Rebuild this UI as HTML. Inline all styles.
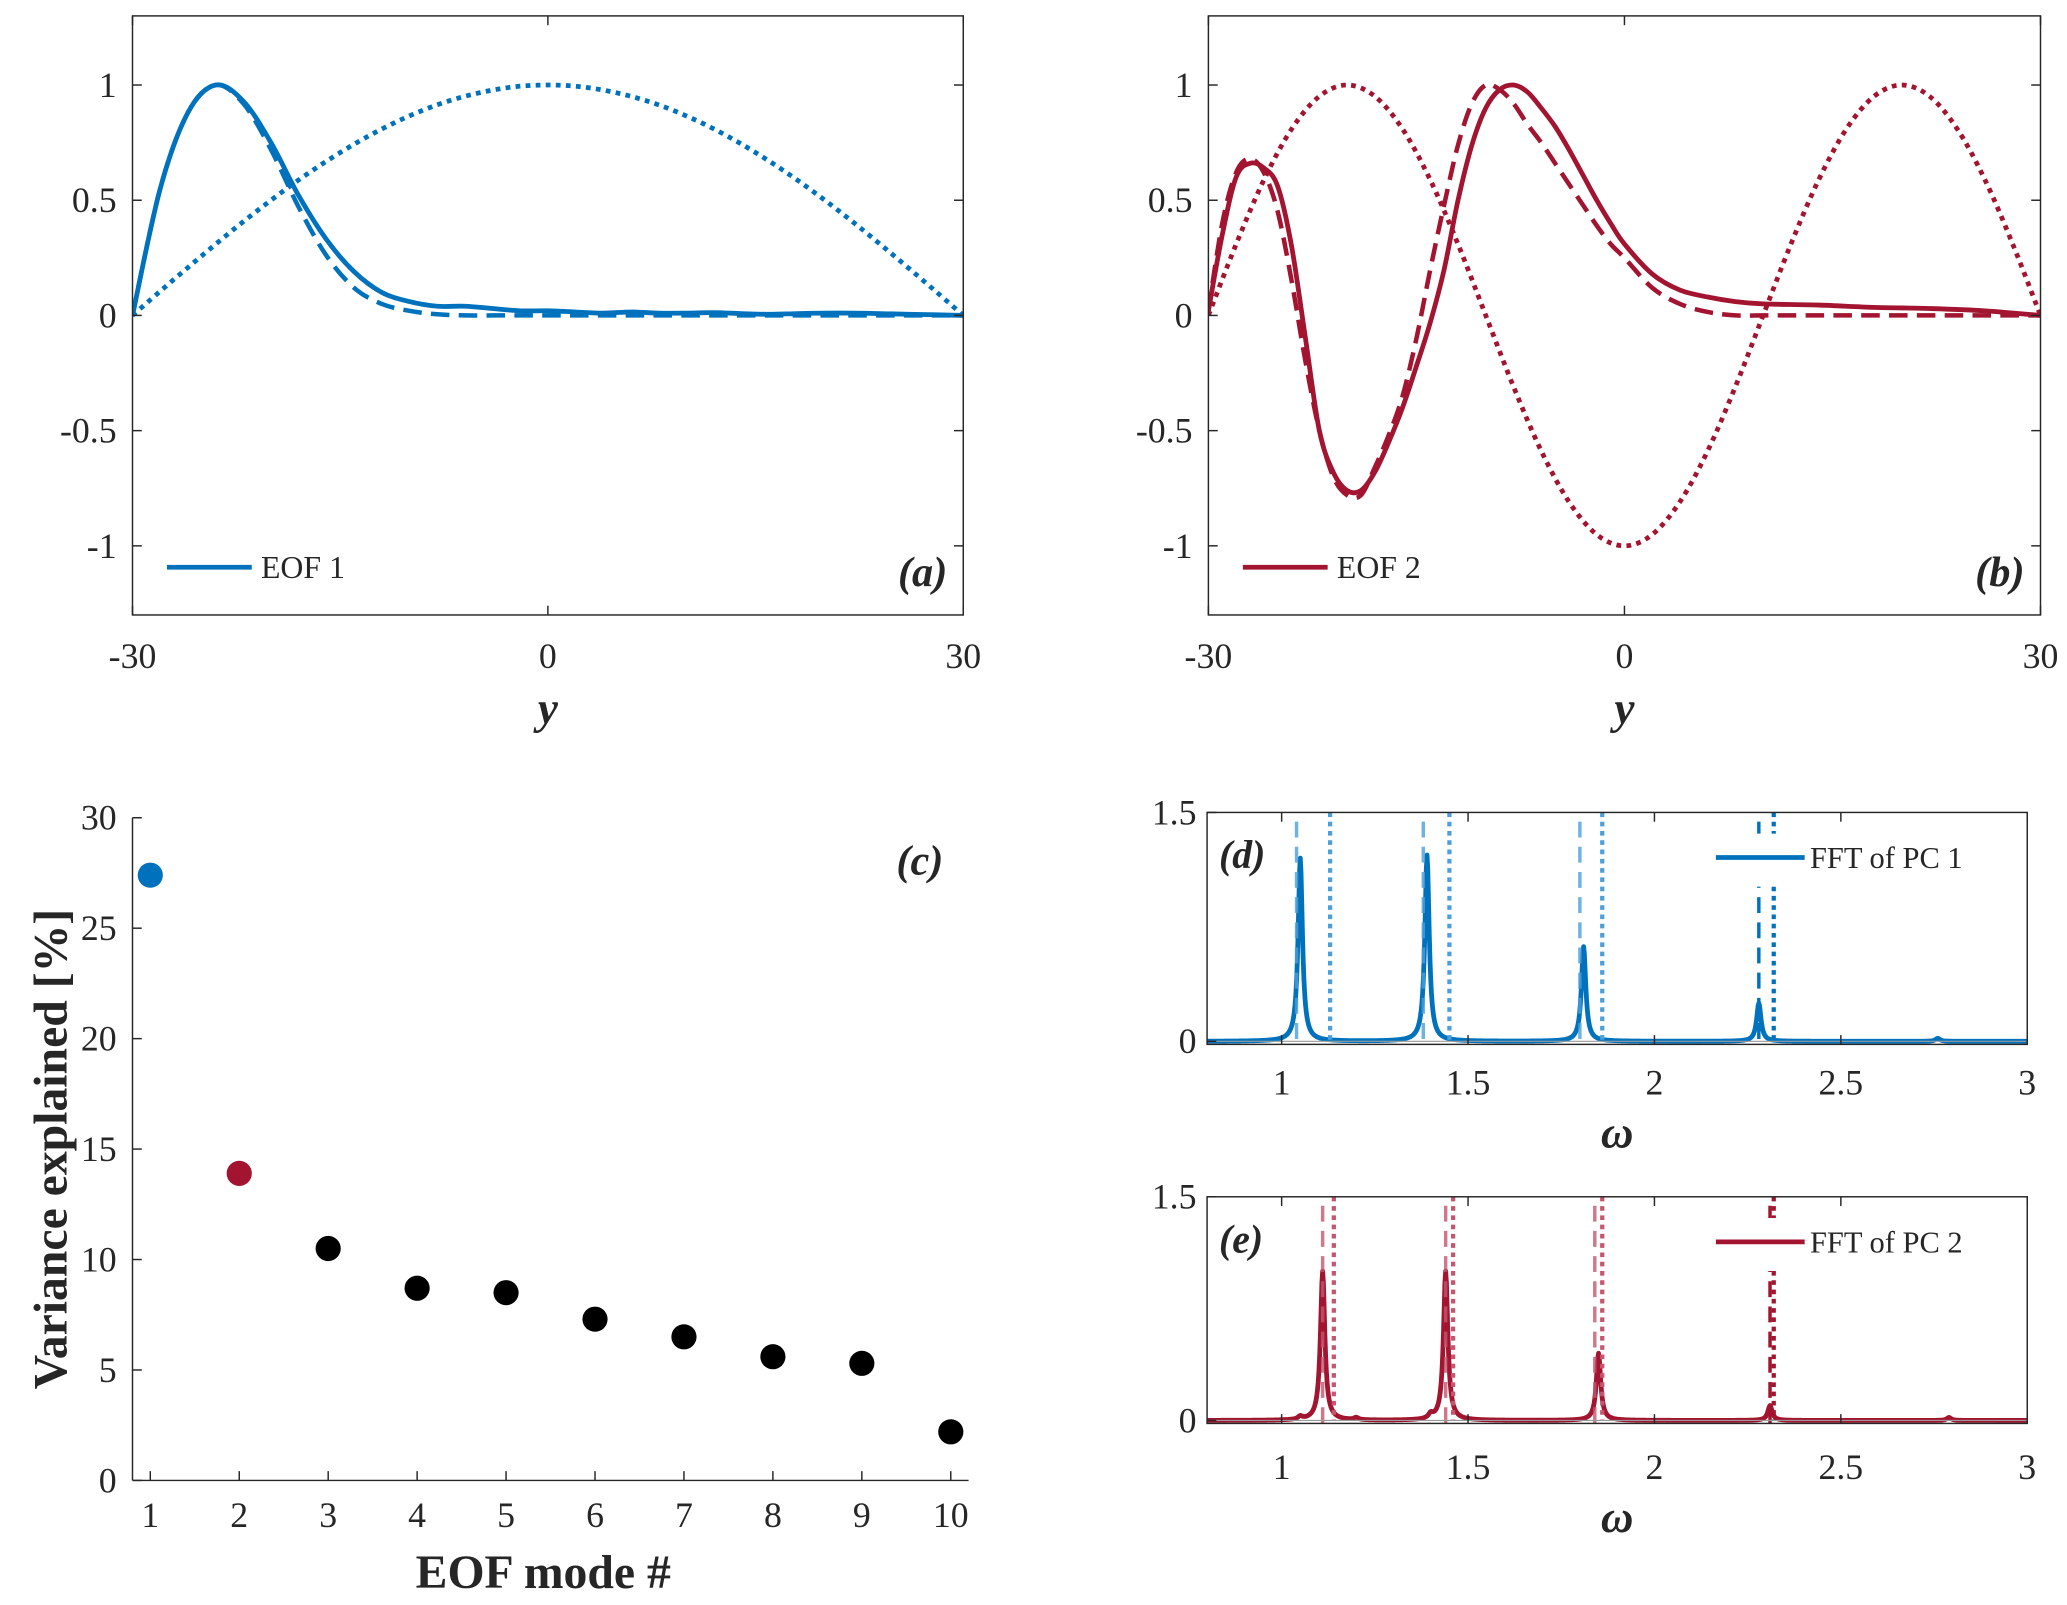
<!DOCTYPE html>
<html><head><meta charset="utf-8"><style>
html,body{margin:0;padding:0;background:#fff;}
svg{display:block;}
text{font-family:"Liberation Serif",serif;fill:#262626;}
</style></head><body>
<svg id="fig" width="2067" height="1605" viewBox="0 0 1560 1211" preserveAspectRatio="none" xmlns="http://www.w3.org/2000/svg"></svg>
<script>
// ---------- data ----------
// Panel (a)
const aY = [-30,-28,-26,-24,-22,-20,-18,-16,-14,-12,-10,-8,-6,-4,-2,0,2,4,6,8,10,12,14,16,18,20,22,24,26,28,30];
const aSolid = [0,0.55,0.88,1.0,0.93,0.75,0.52,0.33,0.19,0.1,0.06,0.04,0.04,0.03,0.02,0.02,0.015,0.01,0.015,0.01,0.01,0.012,0.008,0.005,0.008,0.01,0.01,0.008,0.005,0.003,0];
const aDashed = [0,0.55,0.88,1.0,0.92,0.72,0.47,0.26,0.12,0.05,0.02,0.005,0,0,0,0,0,0,0,0,0,0,0,0,0,0,0,0,0,0,0];
const aDotted = [0,0.105,0.208,0.309,0.407,0.5,0.588,0.669,0.743,0.809,0.866,0.914,0.951,0.978,0.995,1,0.995,0.978,0.951,0.914,0.866,0.809,0.743,0.669,0.588,0.5,0.407,0.309,0.208,0.105,0];
// Panel (b)
const bY = [-30,-29,-28,-27,-26,-25,-24,-23,-22,-21,-20,-19,-18,-17,-16,-15,-14,-13,-12,-11,-10,-9,-8,-7,-6,-5,-4,-3,-2,-1,0,2,4,6,8,10,14,18,22,26,30];
const bSolid = [0.02,0.35,0.6,0.66,0.64,0.56,0.3,-0.1,-0.5,-0.68,-0.76,-0.76,-0.68,-0.55,-0.4,-0.22,-0.03,0.2,0.5,0.74,0.9,0.98,1.0,0.97,0.9,0.82,0.72,0.61,0.5,0.4,0.31,0.18,0.11,0.08,0.06,0.05,0.045,0.035,0.03,0.02,0];
const bDashed = [0.02,0.4,0.62,0.68,0.62,0.45,0.15,-0.2,-0.5,-0.7,-0.78,-0.78,-0.66,-0.52,-0.35,-0.1,0.2,0.48,0.74,0.92,1.0,0.98,0.92,0.83,0.75,0.66,0.57,0.48,0.39,0.31,0.25,0.12,0.05,0.015,0,0,0,0,0,0,0];
const bDotY = [-30,-28,-26,-24,-22,-20,-18,-16,-14,-12,-10,-8,-6,-4,-2,0,2,4,6,8,10,12,14,16,18,20,22,24,26,28,30];
const bDotted = [0,0.309,0.588,0.809,0.951,1,0.951,0.809,0.588,0.309,0,-0.309,-0.588,-0.809,-0.951,-1,-0.951,-0.809,-0.588,-0.309,0,0.309,0.588,0.809,0.951,1,0.951,0.809,0.588,0.309,0];
// Panel (c)
const cModes = [1,2,3,4,5,6,7,8,9,10];
const cVariance = [27.4,13.9,10.5,8.7,8.5,7.3,6.5,5.6,5.3,2.2];
const cColors = ['#0072BD','#A2142F','#000','#000','#000','#000','#000','#000','#000','#000'];
// Panel (d)
const dPeakW = [1.05,1.39,1.81,2.28,2.76];
const dPeakA = [1.2,1.22,0.62,0.25,0.02];
const dDashW = [1.04,1.38,1.80,2.28];
const dDotW = [1.13,1.45,1.86,2.32];
// Panel (e)
const ePeakW = [1.11,1.44,1.85,2.31,2.79,1.05,1.40,1.20];
const ePeakA = [1.0,1.0,0.45,0.1,0.02,0.02,0.03,0.015];
const eDashW = [1.11,1.44,1.84,2.31];
const eDotW = [1.14,1.46,1.86,2.32];
const yTicksAB = [-1,-0.5,0,0.5,1];
const yTickLabelsAB = ['-1','-0.5','0','0.5','1'];
const xTicksAB = [-30,0,30];
const yTicksC = [0,5,10,15,20,25,30];
const xTicksDE = [1,1.5,2,2.5,3];
const xTickLabelsDE = ['1','1.5','2','2.5','3'];

// ---------- helpers ----------
const svg = document.getElementById('fig');
const NS = 'http://www.w3.org/2000/svg';
function mk(tag, attrs, parent){
  const e = document.createElementNS(NS, tag);
  for (const k in attrs) e.setAttribute(k, attrs[k]);
  (parent||svg).appendChild(e);
  return e;
}
function txt(s, x, y, size, opts, parent){
  const e = mk('text', Object.assign({x:x, y:y, 'font-size':size}, opts||{}), parent);
  e.textContent = s;
  return e;
}
function lin(d0,d1,r0,r1){ return v => r0 + (v-d0)/(d1-d0)*(r1-r0); }
function smoothPath(pts){
  let d = 'M'+pts[0][0].toFixed(2)+','+pts[0][1].toFixed(2);
  for (let i=0;i<pts.length-1;i++){
    const p0=pts[Math.max(0,i-1)], p1=pts[i], p2=pts[i+1], p3=pts[Math.min(pts.length-1,i+2)];
    const c1=[p1[0]+(p2[0]-p0[0])/6, p1[1]+(p2[1]-p0[1])/6];
    const c2=[p2[0]-(p3[0]-p1[0])/6, p2[1]-(p3[1]-p1[1])/6];
    d+=' C'+c1[0].toFixed(2)+','+c1[1].toFixed(2)+' '+c2[0].toFixed(2)+','+c2[1].toFixed(2)+' '+p2[0].toFixed(2)+','+p2[1].toFixed(2);
  }
  return d;
}
const AX = '#262626';
const BLUE = '#0072BD', RED = '#A2142F';

// ---------- panels (a),(b) ----------
function eofPanel(x0, x1, color, solidX, solid, dashX, dashed, dotX, dotted, legendTxt, tag, name){
  const g = mk('g', {});
  
  
  const top=12, bot=464;
  const X = lin(-30,30,x0,x1), Y = lin(-1.3,1.3,bot,top);
  const clipId = 'clip-'+name;
  const cp = mk('clipPath', {id:clipId}, g); mk('rect',{x:x0,y:top,width:x1-x0,height:bot-top},cp);
  const curves = mk('g', {'clip-path':'url(#'+clipId+')'}, g);
  const pD = mk('path', {d:smoothPath(dotX.map((v,i)=>[X(v),Y(dotted[i])])), fill:'none', stroke:color, 'stroke-width':3.6, 'stroke-dasharray':'3.6 4'}, curves);
  
  
  const pDa = mk('path', {d:smoothPath(dashX.map((v,i)=>[X(v),Y(dashed[i])])), fill:'none', stroke:color, 'stroke-width':3.4, 'stroke-dasharray':'14 7'}, curves);
  
  
  const pS = mk('path', {d:smoothPath(solidX.map((v,i)=>[X(v),Y(solid[i])])), fill:'none', stroke:color, 'stroke-width':3.6}, curves);
  
  
  mk('rect', {x:x0, y:top, width:x1-x0, height:bot-top, fill:'none', stroke:AX, 'stroke-width':1.1}, g);
  yTicksAB.forEach((t,i)=>{
    const y=Y(t);
    mk('line',{x1:x0,y1:y,x2:x0+7,y2:y,stroke:AX,'stroke-width':1.1},g);
    mk('line',{x1:x1,y1:y,x2:x1-7,y2:y,stroke:AX,'stroke-width':1.1},g);
    txt(yTickLabelsAB[i], x0-12, y+9, 27, {'text-anchor':'end'}, g);
  });
  xTicksAB.forEach(t=>{
    const x=X(t);
    mk('line',{x1:x,y1:bot,x2:x,y2:bot-7,stroke:AX,'stroke-width':1.1},g);
    mk('line',{x1:x,y1:top,x2:x,y2:top+7,stroke:AX,'stroke-width':1.1},g);
    txt(String(t), x, 504, 27, {'text-anchor':'middle'}, g);
  });
  txt('y', (x0+x1)/2, 546, 34, {'text-anchor':'middle','font-weight':'bold','font-style':'italic'}, g);
  const lg = mk('g', {}, g);
  
  
  mk('line',{x1:x0+26,y1:428,x2:x0+90,y2:428,stroke:color,'stroke-width':3.6},lg);
  txt(legendTxt, x0+97, 436, 24, {}, lg);
  txt(tag, x1-12, 442, 32, {'text-anchor':'end','font-weight':'bold','font-style':'italic'}, g);
}
eofPanel(100,727,BLUE,aY,aSolid,aY,aDashed,aY,aDotted,'EOF 1','(a)','panel-a');
eofPanel(912,1540,RED,bY,bSolid,bY,bDashed,bDotY,bDotted,'EOF 2','(b)','panel-b');

// ---------- panel (c) ----------
(function(){
  const g = mk('g', {});
  
  
  const x0=100, x1=731, top=617, bot=1117;
  const X = lin(0.8,10.2,x0,x1), Y = lin(0,30,bot,top);
  mk('line',{x1:x0,y1:top,x2:x0,y2:bot,stroke:AX,'stroke-width':1.1},g);
  mk('line',{x1:x0,y1:bot,x2:x1,y2:bot,stroke:AX,'stroke-width':1.1},g);
  yTicksC.forEach(t=>{
    const y=Y(t);
    mk('line',{x1:x0,y1:y,x2:x0+7,y2:y,stroke:AX,'stroke-width':1.1},g);
    txt(String(t), x0-12, y+9, 27, {'text-anchor':'end'}, g);
  });
  cModes.forEach(t=>{
    const x=X(t);
    mk('line',{x1:x,y1:bot,x2:x,y2:bot-7,stroke:AX,'stroke-width':1.1},g);
    txt(String(t), x, 1152, 27, {'text-anchor':'middle'}, g);
  });
  cModes.forEach((m,i)=>{
    const c = mk('circle',{cx:X(m),cy:Y(cVariance[i]),r:9.5,fill:cColors[i]},g);
    
    
  });
  const yl = txt('Variance explained [%]', 0, 0, 36, {'text-anchor':'middle','font-weight':'bold','transform':'translate(50,867) rotate(-90)'}, g);
  
  
  const xl = txt('EOF mode #', 410, 1198, 36, {'text-anchor':'middle','font-weight':'bold'}, g);
  
  
  txt('(c)', 712, 660, 32, {'text-anchor':'end','font-weight':'bold','font-style':'italic'}, g);
})();

// ---------- panels (d),(e) ----------
function fftPanel(top, bot, color, lightColor, peakW, peakA, dashW, dotW, legendTxt, tag, name, tickY, labY){
  const g = mk('g', {});
  
  
  const x0=911, x1=1530;
  const X = lin(0.8,3,x0,x1), Y = lin(-0.02,1.5,bot,top);
  const clipId='clip-'+name;
  const cp = mk('clipPath',{id:clipId},g); mk('rect',{x:x0,y:top,width:x1-x0,height:bot-top},cp);
  const inner = mk('g',{'clip-path':'url(#'+clipId+')'},g);
  const pts=[];
  for (let w=0.8; w<=3.0001; w+=0.002){
    let s=0;
    peakW.forEach((w0,i)=>{ const gm=0.007; s+=peakA[i]*gm*gm/((w-w0)*(w-w0)+gm*gm); });
    pts.push(X(w).toFixed(2)+','+Y(s).toFixed(2));
  }
  const sp = mk('polyline',{points:pts.join(' '),fill:'none',stroke:color,'stroke-width':3.6,'stroke-linejoin':'round'},inner);
  
  
  dotW.forEach((w,i)=>{
    const l = mk('line',{x1:X(w),y1:top,x2:X(w),y2:Y(0),stroke:i===dotW.length-1?color:lightColor,'stroke-width':3.2,'stroke-dasharray':'3.5 3.5'},inner);
    
    
  });
  dashW.forEach((w,i)=>{
    const l = mk('line',{x1:X(w),y1:Y(1.44),x2:X(w),y2:bot,stroke:i===dashW.length-1?color:lightColor,'stroke-width':2.6,'stroke-dasharray':'12 7','opacity':i===dashW.length-1?1:0.8},inner);
    
    
  });
  mk('line',{x1:x0,y1:Y(0),x2:x1,y2:Y(0),stroke:'#999','stroke-width':0.8},inner);
  mk('rect',{x:x0,y:top,width:x1-x0,height:bot-top,fill:'none',stroke:AX,'stroke-width':1.1},g);
  [0,1.5].forEach((t,i)=>{
    const y=Y(t);
    mk('line',{x1:x0,y1:y,x2:x0+7,y2:y,stroke:AX,'stroke-width':1.1},g);
    txt(i?'1.5':'0', x0-8, y+9, 27, {'text-anchor':'end'}, g);
  });
  xTicksDE.forEach((t,i)=>{
    const x=X(t);
    mk('line',{x1:x,y1:bot,x2:x,y2:bot-7,stroke:AX,'stroke-width':1.1},g);
    mk('line',{x1:x,y1:top,x2:x,y2:top+7,stroke:AX,'stroke-width':1.1},g);
    txt(xTickLabelsDE[i], x, tickY, 27, {'text-anchor':'middle'}, g);
  });
  txt('ω', (x0+x1)/2, labY, 34, {'text-anchor':'middle','font-weight':'bold','font-style':'italic'}, g);
  mk('rect',{x:1290,y:top+16,width:228,height:40,fill:'#fff'},g);
  const le = mk('g',{},g);
  
  
  mk('line',{x1:1295,y1:top+34,x2:1362,y2:top+34,stroke:color,'stroke-width':3.6},le);
  txt(legendTxt, 1366, top+42, 23, {}, le);
  txt(tag, 920, top+42, 30, {'font-weight':'bold','font-style':'italic'}, g);
}
fftPanel(613,788,BLUE,'#4B9FDA',dPeakW,dPeakA,dDashW,dDotW,'FFT of PC 1','(d)','panel-d',826,866);
fftPanel(903,1074,RED,'#C4566F',ePeakW,ePeakA,eDashW,eDotW,'FFT of PC 2','(e)','panel-e',1116,1156);
</script>
</body></html>
